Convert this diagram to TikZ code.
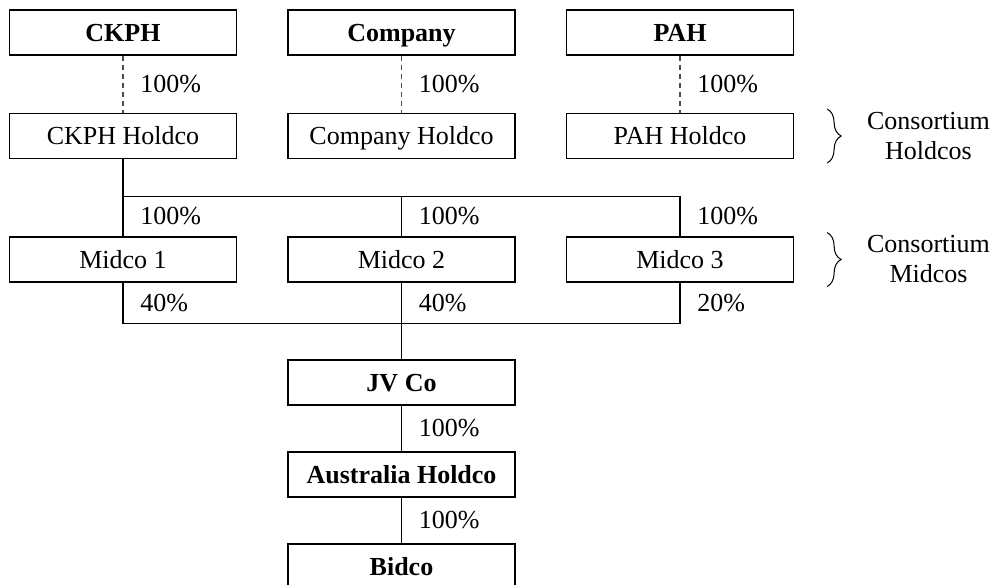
\documentclass[tikz,border=0pt]{standalone}
\usepackage{fontspec}
\setmainfont{Liberation Serif}
\usetikzlibrary{decorations.pathreplacing}

\begin{document}
\begin{tikzpicture}[-,line width=0.6pt,node distance=139.25pt,
  font=\fontsize{13}{15}\selectfont,
  main node/.style={rectangle,draw,minimum width=113.5pt,minimum height=22.5pt,inner sep=0pt,
    text height=8.6pt,text depth=0pt},
  bold node/.style={main node,font=\fontsize{13}{15}\selectfont\bfseries},
  group brace/.style={decorate,decoration={brace,amplitude=7pt},line width=0.5pt}]

  \useasboundingbox (0,0) rectangle (497pt,-292pt);

  \node[bold node] (1) at (61.5pt,-16.25pt) {CKPH};
  \node[bold node] (2) [right of=1] {Company};
  \node[bold node] (3) [right of=2] {PAH};

  \node[main node] (4) [below of=1, node distance=51.75pt] {CKPH Holdco};
  \node[main node] (5) [right of=4] {Company Holdco};
  \node[main node] (6) [right of=5] {PAH Holdco};

  \node[main node] (7) [below of=4, node distance=61.75pt] {Midco 1};
  \node[main node] (8) [right of=7] {Midco 2};
  \node[main node] (9) [right of=8] {Midco 3};

  \node[bold node] (10) [below of=8, node distance=61.5pt] {JV Co};
  \node[bold node] (11) [below of=10, node distance=46pt] {Australia Holdco};
  \node[bold node] (12) [below of=11, node distance=46pt] {Bidco};

  \node[align=center] (13) [right of=6, node distance=124.25pt] {Consortium\\Holdcos};
  \node[align=center] (14) [right of=9, node distance=124.25pt] {Consortium\\Midcos};

  \draw[group brace] ([xshift=16.5pt,yshift=13.5pt]6.east) -- ([xshift=16.5pt,yshift=-13.5pt]6.east);
  \draw[group brace] ([xshift=16.5pt,yshift=13.5pt]9.east) -- ([xshift=16.5pt,yshift=-13.5pt]9.east);

  \coordinate (b1) at ([yshift=-18.5pt]4.south);
  \coordinate (b2) at (b1 -| 8);
  \coordinate (b3) at (b1 -| 9);
  \coordinate (b4) at ([yshift=-20.5pt]7.south);
  \coordinate (b5) at (b4 -| 8);
  \coordinate (b6) at (b4 -| 9);

  \path[draw=black!70,dash pattern=on 2.5pt off 2pt,every node/.style={right=5pt,text=black}]
    (1) edge node {100\%} (4)
    (2) edge node {100\%} (5)
    (3) edge node {100\%} (6);

  \path[line cap=rect,every node/.style={right=5pt}]
    (4) edge (b1)
    (b1) edge (b3)
    (b1) edge node {100\%} (7)
    (b2) edge node {100\%} (8)
    (b3) edge node {100\%} (9)
    (7) edge node {40\%} (b4)
    (8) edge node {40\%} (b5)
    (9) edge node {20\%} (b6)
    (b4) edge (b6)
    (b5) edge (10)
    (10) edge node {100\%} (11)
    (11) edge node {100\%} (12);
\end{tikzpicture}
\end{document}
